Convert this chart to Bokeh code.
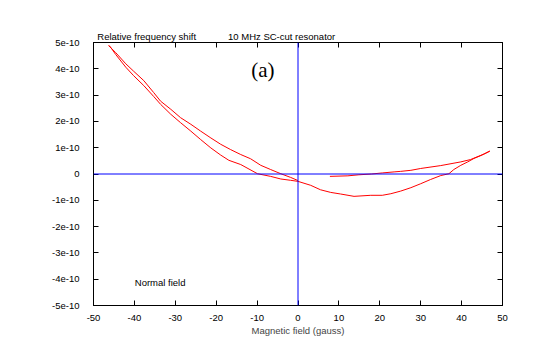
import numpy as np
from bokeh.plotting import figure
from bokeh.models import LinearAxis, FixedTicker, Span, Label, ColumnDataSource
from bokeh.embed import file_html
from bokeh.resources import INLINE

# Magnetic field (gauss) and relative frequency shift (units of 1e-10), in trace order
field = [7.8, 12.2, 14.9, 18.0, 20.6, 23.5, 25.1, 27.6, 30.0, 34.9, 39.8, 42.2, 45.5, 46.9,
         44.7, 43.0, 41.5, 39.8, 38.1, 36.9, 34.9, 32.4, 30.0, 27.6, 25.1, 22.7, 20.6, 17.8,
         13.7, 10.4, 8.0, 5.5, 3.1, 0.0,
         -1.8, -4.2, -6.7, -9.9, -14.0, -16.9, -18.9, -21.3, -23.8, -26.2, -28.7, -31.1,
         -33.6, -35.3, -37.7, -40.2, -42.1, -44.6, -46.0, -46.3,
         -44.6, -42.1, -40.2, -37.7, -35.3, -33.6, -31.1, -28.7, -26.2, -23.8, -21.3, -18.9,
         -16.5, -14.0, -11.6, -9.1, -6.7, -4.2, -1.8, 0.0]
shift = [-0.09, -0.07, -0.03, 0.0, 0.04, 0.08, 0.10, 0.14, 0.21, 0.32, 0.46, 0.55, 0.76, 0.87,
         0.70, 0.59, 0.46, 0.33, 0.17, 0.01, -0.06, -0.21, -0.37, -0.52, -0.65, -0.75, -0.81, -0.81,
         -0.85, -0.76, -0.70, -0.60, -0.43, -0.28,
         -0.24, -0.19, -0.09, 0.01, 0.36, 0.52, 0.72, 0.99, 1.31, 1.63, 1.95, 2.27,
         2.65, 2.95, 3.36, 3.74, 4.06, 4.55, 4.86, 4.88,
         4.62, 4.19, 3.91, 3.55, 3.10, 2.77, 2.46, 2.14, 1.89, 1.63, 1.37, 1.13,
         0.93, 0.74, 0.58, 0.33, 0.17, 0.01, -0.13, -0.25]

x_ticks = [-50, -40, -30, -20, -10, 0, 10, 20, 30, 40, 50]
x_tick_labels = ["-50", "-40", "-30", "-20", "-10", "0", "10", "20", "30", "40", "50"]
y_ticks = [-5, -4, -3, -2, -1, 0, 1, 2, 3, 4, 5]
y_tick_labels = ["-5e-10", "-4e-10", "-3e-10", "-2e-10", "-1e-10", "0",
                 "1e-10", "2e-10", "3e-10", "4e-10", "5e-10"]
# header texts, centred at these field positions above the frame
header_pos = [-37, -4]
header_texts = ["Relative frequency shift", "10 MHz SC-cut resonator"]

FONT = "Liberation Sans"
FS = "9.5px"

p = figure(width=540, height=355, x_range=(-50, 50), y_range=(-5, 5),
           output_backend="svg", toolbar_location=None,
           min_border_left=93, min_border_right=38, min_border_top=42, min_border_bottom=50)
p.grid.visible = False
p.outline_line_color = "black"
p.outline_line_width = 1
p.background_fill_color = "white"
p.border_fill_color = "white"

src = ColumnDataSource(dict(x=field, y=shift))
p.line("x", "y", source=src, line_color="#ff0000", line_width=1)

p.add_layout(Span(location=0, dimension="width", line_color="#0000ff", line_width=1))
p.add_layout(Span(location=0, dimension="height", line_color="#0000ff", line_width=1))

bottom = p.below[0]
left = p.left[0]
top = LinearAxis()
right = LinearAxis()
header = LinearAxis()
p.add_layout(top, "above")
p.add_layout(header, "above")
p.add_layout(right, "right")

def style(ax, ticks, labels=True):
    ax.ticker = FixedTicker(ticks=ticks)
    ax.major_tick_in = 5
    ax.major_tick_out = 0
    ax.minor_tick_line_color = None
    ax.axis_line_color = "black"
    ax.major_tick_line_color = "black"
    ax.major_label_text_font = FONT
    ax.major_label_text_font_size = FS
    ax.major_label_text_color = "black"
    if not labels:
        ax.major_label_text_font_size = "0px"
        ax.major_label_text_color = None
        ax.major_label_standoff = 0

style(bottom, x_ticks)
style(left, y_ticks)
style(top, x_ticks, labels=False)
style(right, y_ticks, labels=False)

style(header, header_pos)
header.axis_line_color = None
header.major_tick_line_color = None
header.major_tick_in = 0
header.major_label_standoff = 1
header.major_label_overrides = {t: s for t, s in zip(header_pos, header_texts)}

bottom.major_label_overrides = {t: l for t, l in zip(x_ticks, x_tick_labels)}
left.major_label_overrides = {t: l for t, l in zip(y_ticks, y_tick_labels)}
left.major_label_standoff = 14
bottom.major_label_standoff = 9
bottom.axis_label = "Magnetic field (gauss)"
bottom.axis_label_text_font = FONT
bottom.axis_label_text_font_size = FS
bottom.axis_label_text_font_style = "normal"
bottom.axis_label_standoff = 1

def label(x, y, text, **kw):
    opts = dict(text_font=FONT, text_font_size=FS, text_color="black",
                text_baseline="middle", text_align="left")
    opts.update(kw)
    p.add_layout(Label(x=x, y=y, text=text, **opts))

label(-8.6, 3.96, "(a)", text_font="Liberation Serif", text_font_size="21px", text_align="center")
label(-39.9, -4.12, "Normal field")

open("out.html", "w").write(file_html(p, INLINE))
